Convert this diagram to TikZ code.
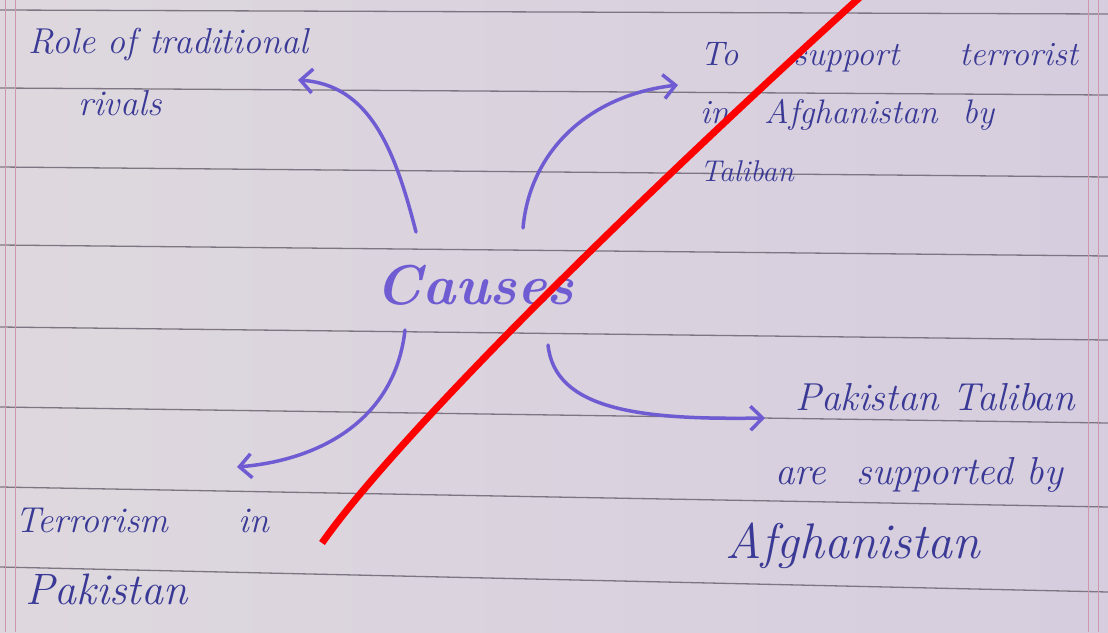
\documentclass[tikz,border=0pt]{standalone}
\usetikzlibrary{arrows.meta}
\definecolor{paper}{RGB}{214,205,222}
\definecolor{paperlight}{RGB}{222,216,222}
\definecolor{rule}{RGB}{125,118,130}
\definecolor{margin}{RGB}{205,150,172}
\definecolor{ink}{RGB}{58,58,150}
\definecolor{pen}{RGB}{112,92,210}
\tikzset{
  note/.style={inner sep=0pt, anchor=north west, align=left, text=ink},
  bend arrow/.style={pen, line width=3.5pt, line cap=round,
    -{Straight Barb[length=12pt,width=24pt,line width=3.5pt]}},
}
\begin{document}
\begin{tikzpicture}[x=1pt,y=-1pt]
\useasboundingbox (0,0) rectangle (1108,632);
\clip (0,0) rectangle (1108,632);
% paper with rules and margins
\shade[left color=paperlight, right color=paper] (0,0) rectangle (1108,632);
\foreach \yl/\yr in {10/14,88/95,167/177,245/256,327/340,407/423,487/507,567/592}
  \draw[rule, line width=1.3pt] (0,\yl) -- (1108,\yr);
\foreach \x in {5,15,1088,1098}
  \draw[margin, line width=1pt] (\x,0) -- (\x,632);

% centre word
\node[inner sep=0pt, text=pen, font=\bfseries\itshape\fontsize{56}{60}\selectfont] (causes) at (475,285) {Causes};

% the four notes
\node[note, font=\itshape\fontsize{36}{62}\selectfont] (rivals) at (28,28) {Role of traditional\\\hspace*{50pt}rivals};
\node[note, font=\itshape\fontsize{34}{58}\selectfont] (support) at (700,42) {To\hspace{55pt}support\hspace{60pt}terrorist\\in\hspace{35pt}Afghanistan\hspace{25pt}by\\{\fontsize{30}{30}\selectfont Taliban}};
\node[note, font=\itshape\fontsize{36}{72}\selectfont] (terror) at (15,508) {Terrorism\hspace{70pt}in\\\hspace*{10pt}{\fontsize{44}{44}\selectfont Pakistan}};
\node[note, font=\itshape\fontsize{39}{74}\selectfont] (taliban) at (725,383) {\hspace*{70pt}Pakistan Taliban\\\hspace*{50pt}are\hspace{30pt}supported by\\{\fontsize{50}{50}\selectfont Afghanistan}};

% arrows out of the centre
\coordinate (nw tail) at (416,232);
\coordinate (nw head) at (298,80);
\coordinate (ne tail) at (523,228);
\coordinate (ne head) at (678,85);
\coordinate (sw tail) at (405,330);
\coordinate (sw head) at (237,467);
\coordinate (se tail) at (548,345);
\coordinate (se head) at (765,418);
\draw[bend arrow] (nw tail) .. controls (395,150) and (370,85) .. (nw head);
\draw[bend arrow] (ne tail) .. controls (530,150) and (590,95) .. (ne head);
\draw[bend arrow] (sw tail) .. controls (395,420) and (320,460) .. (sw head);
\draw[bend arrow] (se tail) .. controls (555,410) and (640,420) .. (se head);

% red stroke across the page
\draw[red, line width=7pt] (322,543) .. controls (380,460) and (560,270) .. (870,-12);
\end{tikzpicture}
\end{document}
